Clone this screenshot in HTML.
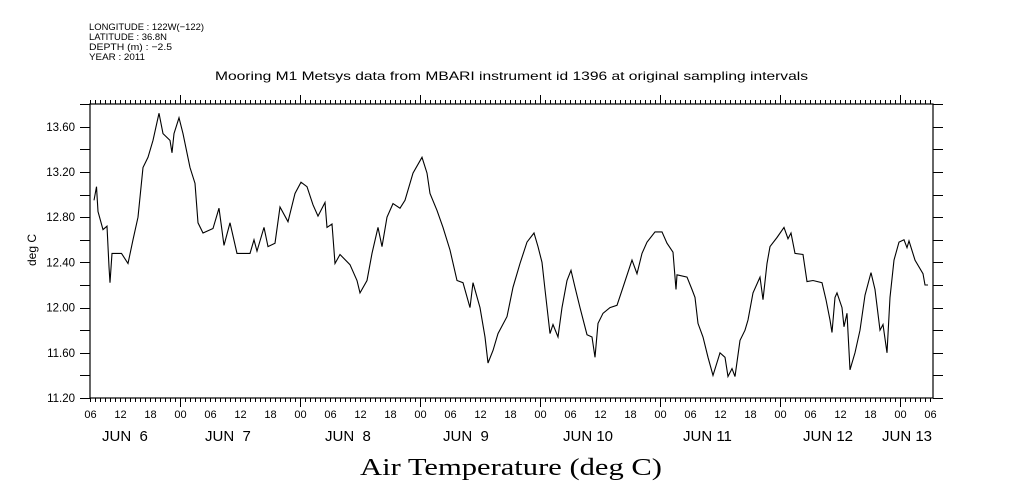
<!DOCTYPE html>
<html><head><meta charset="utf-8"><style>
html,body{margin:0;padding:0;background:#fff;}
svg{display:block;}
text{font-family:"Liberation Sans",sans-serif;fill:#000;}
</style></head><body>
<svg id="chart" width="1009" height="504" viewBox="0 0 1009 504" xmlns="http://www.w3.org/2000/svg">
<g font-size="9.5">
<text x="89" y="30" textLength="115" lengthAdjust="spacingAndGlyphs">LONGITUDE : 122W(−122)</text>
<text x="89" y="40" textLength="78" lengthAdjust="spacingAndGlyphs">LATITUDE : 36.8N</text>
<text x="89" y="50" textLength="83" lengthAdjust="spacingAndGlyphs">DEPTH (m) : −2.5</text>
<text x="89" y="60" textLength="56" lengthAdjust="spacingAndGlyphs">YEAR : 2011</text>
</g>
<text x="215" y="80" font-size="12" textLength="593" lengthAdjust="spacingAndGlyphs">Mooring M1 Metsys data from MBARI instrument id 1396 at original sampling intervals</text>
<text x="360" y="475" font-size="24" style="font-family:'Liberation Serif',serif" textLength="302" lengthAdjust="spacingAndGlyphs">Air Temperature (deg C)</text>
<text transform="translate(36,250) rotate(-90)" text-anchor="middle" font-size="12">deg C</text>
<g id="axes"></g>
<g id="series"></g>
</svg>
<script>
const hours=[0.8,1.3,1.6,2.6,3.4,3.8,4.0,4.4,6.3,7.6,8.6,9.6,10.6,11.6,12.6,13.8,14.6,16,16.4,16.8,17.8,18.6,20,21,21.6,22.6,24.6,25.8,26.8,28,29.4,32,32.8,33.4,34.8,35.6,37,38,39.6,41,42.2,43.4,44.6,45.6,47,47.4,48.4,49,50,52,53.4,54,55.4,56.4,57.6,58.4,59.4,60.6,62,63,64.6,66.4,67.4,68,69.4,70.6,72,73.4,74.6,76,76.6,78,79,79.6,80.6,81.6,83.4,84.6,86,87.4,88.8,89.6,90.4,91,92,92.6,93.6,94.4,95.4,96.2,97,98,99.4,100.4,101,101.6,102.6,104,105.4,106.6,108.4,109.4,110.4,111.4,113,114.4,115.4,116.6,117.2,117.4,119.4,120.4,121,121.6,122.6,123.6,124.6,126,127,127.6,128.4,129,130,131,131.6,132.6,134,134.6,135.4,136,137.4,138.8,139.6,140.2,141,142.6,143.4,144.6,146.4,147.2,148,148.4,149,149.4,150.4,150.8,151.4,152,153,154,155,156.2,157,158,158.6,159.4,160,160.8,161.8,162.8,163.4,163.8,165,166.6,167,167.6];
const temps=[12.95,13.07,12.85,12.69,12.72,12.36,12.22,12.48,12.48,12.39,12.60,12.80,13.24,13.33,13.48,13.72,13.54,13.48,13.37,13.54,13.68,13.54,13.24,13.10,12.75,12.66,12.70,12.88,12.55,12.75,12.48,12.48,12.60,12.50,12.71,12.54,12.57,12.89,12.76,13.01,13.11,13.07,12.91,12.81,12.93,12.71,12.74,12.39,12.47,12.38,12.24,12.13,12.24,12.48,12.71,12.54,12.80,12.92,12.88,12.95,13.19,13.33,13.19,13.01,12.86,12.71,12.51,12.24,12.22,12.00,12.22,12.00,11.74,11.51,11.62,11.77,11.92,12.18,12.39,12.58,12.66,12.54,12.40,12.16,11.77,11.85,11.74,12.00,12.24,12.33,12.18,12.00,11.76,11.74,11.56,11.86,11.95,12.00,12.02,12.18,12.42,12.30,12.48,12.58,12.67,12.67,12.57,12.49,12.16,12.29,12.27,12.16,12.09,11.86,11.74,11.56,11.40,11.60,11.56,11.39,11.46,11.39,11.71,11.80,11.89,12.13,12.27,12.07,12.39,12.54,12.62,12.71,12.61,12.66,12.48,12.47,12.23,12.24,12.22,12.07,11.89,11.78,12.09,12.13,12.00,11.83,11.95,11.45,11.60,11.80,12.11,12.31,12.16,11.80,11.85,11.60,12.09,12.42,12.58,12.60,12.53,12.59,12.42,12.30,12.20,12.20];
const yTickLabels=["11.20","11.60","12.00","12.40","12.80","13.20","13.60"];
const hourLabels=["06","12","18","00"];
const dayLabels=["JUN  6","JUN  7","JUN  8","JUN  9","JUN 10","JUN 11","JUN 12","JUN 13"];
const dayLabelX=[102,205,325,443,563,683,803,882];

const L=90,R=933,T=104,B=398;
const H0=0,H1=(R-L)/5;
const Y0=11.2,Y1=11.2+(B-T)/113;
const xs=h=>L+(h-H0)/(H1-H0)*(R-L);
const ys=v=>B-(v-Y0)/(Y1-Y0)*(B-T);
const NS="http://www.w3.org/2000/svg";
const axes=document.getElementById('axes');
const series=document.getElementById('series');
function mk(tag,attrs,parent){const e=document.createElementNS(NS,tag);for(const k in attrs)e.setAttribute(k,attrs[k]);parent.appendChild(e);return e;}

const frame=mk('rect',{x:L,y:T,width:R-L,height:B-T,fill:'none',stroke:'#000','stroke-width':1.2},axes);



// x ticks
let d='';
for(let h=0;h<=Math.floor(H1);h++){
  const x=Math.round(xs(h))+0.5;
  const major=(h%24)===18;
  const len=major?9:4;
  d+=`M${x} ${T}V${T-len}M${x} ${B}V${B+len}`;
  if(h%6===0){
    const t=mk('text',{x:x,y:418,'font-size':11,'text-anchor':'middle'},axes);
    t.textContent=hourLabels[(h/6)%4];
    
    
  }
}
const xt=mk('path',{d:d,stroke:'#000','stroke-width':1,fill:'none'},axes);



dayLabels.forEach((lab,i)=>{
  const t=mk('text',{x:dayLabelX[i],y:441,'font-size':15,'xml:space':'preserve',style:'white-space:pre'},axes);
  t.textContent=lab;
  
  
});

// y ticks
let dy='';
for(let k=0;k<=13;k++){
  const v=11.2+k*0.2;
  const y=Math.round(ys(v))+0.5;
  if(y<T-1)continue;
  dy+=`M${L} ${y}H${L-10}M${R} ${y}H${R+10}`;
}
const yt=mk('path',{d:dy,stroke:'#000','stroke-width':1,fill:'none'},axes);


yTickLabels.forEach(lab=>{
  const t=mk('text',{x:75,y:ys(parseFloat(lab))+4,'font-size':11.5,'text-anchor':'end'},axes);
  t.textContent=lab;
  
  
});

const pts=hours.map((h,i)=>xs(h).toFixed(1)+','+ys(temps[i]).toFixed(1)).join(' ');
const line=mk('polyline',{points:pts,fill:'none',stroke:'#000','stroke-width':1.1},series);


</script>
</body></html>
